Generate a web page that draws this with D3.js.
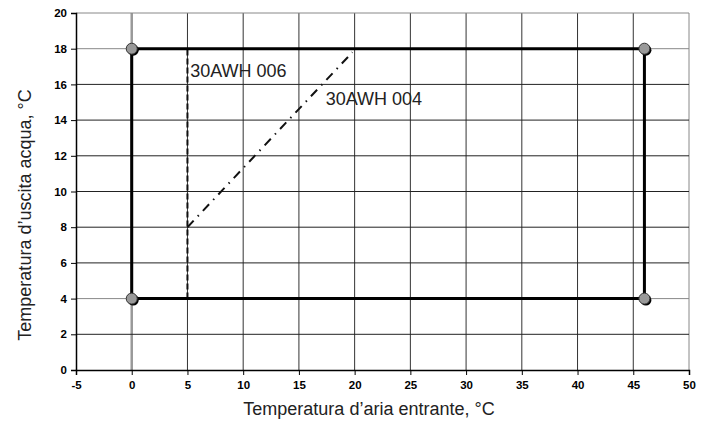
<!DOCTYPE html>
<html>
<head>
<meta charset="utf-8">
<script src="https://cdn.jsdelivr.net/npm/d3@7"></script>
<style>
  body { margin: 0; background: #fff; }
  svg { font-family: "Liberation Sans", Arial, sans-serif; }
</style>
</head>
<body>
<svg id="chart" width="712" height="423"></svg>
<script>
// axis ticks
const xTicks = [-5, 0, 5, 10, 15, 20, 25, 30, 35, 40, 45, 50];
const yTicks = [0, 2, 4, 6, 8, 10, 12, 14, 16, 18, 20];

// operating envelope corners (air temp, water temp)
const envelope = [[0, 4], [0, 18], [46, 18], [46, 4], [0, 4]];
// 30AWH 006 lower air limit
const line006 = [[5, 4], [5, 18]];
// 30AWH 004 limit
const line004 = [[5, 8], [19.8, 17.8]];

const labels = [
  { name: '30AWH 006', x: 5.25, y: 16.4 },
  { name: '30AWH 004', x: 17.4, y: 14.85 }
];

const margin = { left: 76, right: 23, top: 13, bottom: 53 };
const W = 712, H = 423;

const svg = d3.select('#chart');

const x = d3.scaleLinear().domain([-5, 50]).range([margin.left, W - margin.right]);
const y = d3.scaleLinear().domain([0, 20]).range([H - margin.bottom, margin.top]);

// grid
const grid = svg.append('g').attr('class', 'grid');
grid.selectAll('.vg')
  .data(xTicks.filter(d => d !== -5))
  .enter()
  .append('line')
  .attr('x1', d => x(d)).attr('x2', d => x(d))
  .attr('y1', y(0)).attr('y2', y(20))
  .attr('stroke', d => d === 0 ? '#999' : (d === 50 ? '#888' : '#333'))
  .attr('stroke-width', d => d === 0 ? 2.5 : 1);

grid.selectAll('.hg')
  .data(yTicks.filter(d => d !== 0))
  .enter()
  .append('line')
  .attr('x1', x(-5)).attr('x2', x(50))
  .attr('y1', d => y(d)).attr('y2', d => y(d))
  .attr('stroke', d => (d === 20 || d === 18 || d === 4) ? '#888' : '#222')
  .attr('stroke-width', 1);

// axes
const xAxis = svg.append('g')
  .attr('transform', `translate(0,${y(0)})`)
  .call(d3.axisBottom(x).tickValues(xTicks).tickFormat(d => String(d)).tickSize(5).tickPadding(6));
const yAxis = svg.append('g')
  .attr('transform', `translate(${x(-5)},0)`)
  .call(d3.axisLeft(y).tickValues(yTicks).tickFormat(d => String(d)).tickSize(5).tickPadding(4));

[xAxis, yAxis].forEach(a => {
  a.select('.domain').attr('stroke', '#000').attr('stroke-width', 1.5);
  a.selectAll('.tick line').attr('stroke', '#000').attr('stroke-width', 1);
  a.selectAll('.tick text')
    .attr('fill', '#000')
    .attr('font-size', 11.5)
    .attr('font-weight', 'bold')
    .attr('font-family', '"Liberation Sans", Arial, sans-serif');
});

const line = d3.line().x(d => x(d[0])).y(d => y(d[1]));

// 30AWH 006 dashed
svg.append('path')
  .attr('d', line(line006))
  .attr('fill', 'none')
  .attr('stroke', '#111')
  .attr('stroke-width', 2)
  .attr('stroke-dasharray', '6,3');

// 30AWH 004 dash-dot
svg.append('path')
  .attr('d', line(line004))
  .attr('fill', 'none')
  .attr('stroke', '#111')
  .attr('stroke-width', 2)
  .attr('stroke-dasharray', '9,6,1.5,6');

// envelope
svg.append('path')
  .attr('d', line(envelope))
  .attr('fill', 'none')
  .attr('stroke', '#000')
  .attr('stroke-width', 3);

// corner markers with shadow
const corners = envelope.slice(0, 4);
svg.selectAll('.shadow')
  .data(corners)
  .enter()
  .append('circle')
  .attr('cx', d => x(d[0]) + 1.5)
  .attr('cy', d => y(d[1]) + 1.5)
  .attr('r', 5.5)
  .attr('fill', '#000');
svg.selectAll('.marker')
  .data(corners)
  .enter()
  .append('circle')
  .attr('cx', d => x(d[0]))
  .attr('cy', d => y(d[1]))
  .attr('r', 5.5)
  .attr('fill', '#999')
  .attr('stroke', '#333')
  .attr('stroke-width', 1);

// line labels
svg.selectAll('.lbl')
  .data(labels)
  .enter()
  .append('text')
  .attr('x', d => x(d.x))
  .attr('y', d => y(d.y))
  .attr('font-size', 18)
  .attr('fill', '#222')
  .text(d => d.name);

// axis titles
svg.append('text')
  .attr('x', 369)
  .attr('y', 415)
  .attr('text-anchor', 'middle')
  .attr('font-size', 18)
  .attr('fill', '#222')
  .text('Temperatura d\u2019aria entrante, \u00b0C');

svg.append('text')
  .attr('transform', 'translate(31,215) rotate(-90)')
  .attr('text-anchor', 'middle')
  .attr('font-size', 18)
  .attr('fill', '#222')
  .text('Temperatura d\u2019uscita acqua, \u00b0C');
</script>
</body>
</html>
